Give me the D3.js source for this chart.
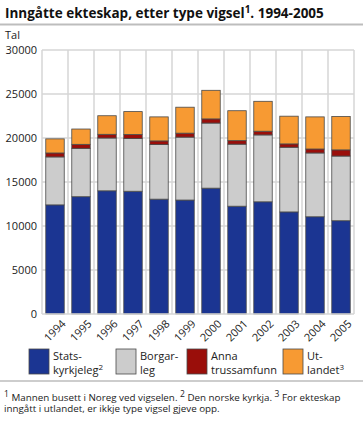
<!DOCTYPE html>
<html>
<head>
<meta charset="utf-8">
<script src="https://cdn.jsdelivr.net/npm/d3@7"></script>
<style>
  body { margin: 0; background: #fff; }
  svg { font-family: "Open Sans", sans-serif; }
</style>
</head>
<body>
<svg width="363" height="427"></svg>
<script>
// chart data
var years = ["1994", "1995", "1996", "1997", "1998", "1999", "2000", "2001", "2002", "2003", "2004", "2005"];
var statskyrkjeleg = [12400, 13330, 14000, 13950, 13050, 12950, 14300, 12250, 12750, 11600, 11050, 10600];
var borgarleg = [5450, 5500, 6000, 6000, 6200, 7150, 7400, 7050, 7600, 7350, 7250, 7350];
var anna = [450, 450, 420, 450, 420, 450, 470, 400, 420, 380, 450, 700];
var utlandet = [1600, 1740, 2110, 2600, 2730, 2950, 3250, 3400, 3400, 3150, 3650, 3800];
var yTicks = [0, 5000, 10000, 15000, 20000, 25000, 30000];

var seriesKeys = ["stats", "borgar", "anna", "utl"];
var colors = ["#1b3592", "#cccccc", "#9a0e0a", "#f79a33"];

var width = 363, height = 427;
var plotLeft = 42, plotRight = 354, plotTop = 50, plotBottom = 314;

var svg = d3.select("svg");

// title
var title = svg.append("text")
    .attr("x", 5)
    .attr("y", 18)
    .attr("font-weight", "bold")
    .style("font-size", "13.5px")
    .attr("fill", "#111");
title.append("tspan").text("Inngåtte ekteskap, etter type vigsel");
title.append("tspan").attr("dy", -5).style("font-size", "10px").text("1");
title.append("tspan").attr("dy", 5).text(". 1994-2005");

svg.append("line")
    .attr("x1", 0).attr("x2", width)
    .attr("y1", 24.5).attr("y2", 24.5)
    .attr("stroke", "#bdbdbd").attr("stroke-width", 2);

svg.append("text")
    .attr("x", 5).attr("y", 39)
    .style("font-size", "11px")
    .attr("fill", "#222")
    .text("Tal");

var x = d3.scaleBand()
    .domain(years)
    .range([plotLeft, plotRight])
    .paddingInner(0.29)
    .paddingOuter(0.145);

var y = d3.scaleLinear()
    .domain([0, 30000])
    .range([plotBottom, plotTop]);

// grid
var grid = svg.append("g").attr("stroke", "#d6d6d6").attr("stroke-width", 1.5);
grid.selectAll("line.h")
    .data(yTicks.filter(function(d) { return d > 0; }))
    .enter().append("line")
    .attr("x1", plotLeft).attr("x2", plotRight)
    .attr("y1", function(d) { return y(d); })
    .attr("y2", function(d) { return y(d); });
var step = x.step();
grid.selectAll("line.v")
    .data(d3.range(years.length + 1))
    .enter().append("line")
    .attr("x1", function(i) { return plotLeft + i * step; })
    .attr("x2", function(i) { return plotLeft + i * step; })
    .attr("y1", plotTop).attr("y2", plotBottom);

// y axis labels
svg.append("g")
    .attr("transform", "translate(" + plotLeft + ",0)")
    .call(d3.axisLeft(y).tickValues(yTicks).tickSize(0).tickPadding(5).tickFormat(d3.format("d")))
    .call(function(g) { g.select(".domain").remove(); })
    .selectAll("text")
    .style("font-size", "11px")
    .style("font-family", "'Open Sans', sans-serif")
    .attr("fill", "#222");

// stacked bars
var rows = years.map(function(yr, i) {
    return { year: yr, stats: statskyrkjeleg[i], borgar: borgarleg[i], anna: anna[i], utl: utlandet[i] };
});
var stack = d3.stack().keys(seriesKeys)(rows);

svg.append("g").selectAll("g")
    .data(stack)
    .enter().append("g")
    .attr("fill", function(d, i) { return colors[i]; })
    .selectAll("rect")
    .data(function(d) { return d; })
    .enter().append("rect")
    .attr("x", function(d) { return x(d.data.year); })
    .attr("y", function(d) { return y(d[1]); })
    .attr("width", x.bandwidth())
    .attr("height", function(d) { return y(d[0]) - y(d[1]); })
    .attr("stroke", "#4a4a4a")
    .attr("stroke-width", 0.8);

// baseline
svg.append("line")
    .attr("x1", plotLeft).attr("x2", plotRight)
    .attr("y1", plotBottom).attr("y2", plotBottom)
    .attr("stroke", "#d6d6d6").attr("stroke-width", 1.5);

// x labels, rotated
svg.append("g").selectAll("text")
    .data(years)
    .enter().append("text")
    .attr("transform", function(d) {
        return "translate(" + (x(d) + x.bandwidth() / 2 + 6) + "," + (plotBottom + 5) + ") rotate(-45)";
    })
    .attr("text-anchor", "end")
    .attr("dy", "0.7em")
    .style("font-size", "11px")
    .attr("fill", "#222")
    .text(function(d) { return d; });

// legend
var legendItems = [
    { lines: ["Stats-", "kyrkjeleg"], sup: "2", x: 29 },
    { lines: ["Borgar-", "leg"], sup: "", x: 116 },
    { lines: ["Anna", "trussamfunn"], sup: "", x: 187 },
    { lines: ["Ut-", "landet"], sup: "3", x: 283 }
];
var lg = svg.append("g").selectAll("g")
    .data(legendItems)
    .enter().append("g")
    .attr("transform", function(d) { return "translate(" + d.x + ",349)"; });
lg.append("rect")
    .attr("width", 20).attr("height", 25)
    .attr("fill", function(d, i) { return colors[i]; })
    .attr("stroke", "#4a4a4a").attr("stroke-width", 0.8);
lg.each(function(d) {
    var t = d3.select(this).append("text")
        .attr("x", 24).attr("y", 11)
        .style("font-size", "11px")
        .attr("fill", "#222");
    t.append("tspan").text(d.lines[0]);
    t.append("tspan").attr("x", 24).attr("dy", 13.5).text(d.lines[1]);
    if (d.sup) {
        t.append("tspan").attr("dy", -4).style("font-size", "8px").text(d.sup);
    }
});

svg.append("line")
    .attr("x1", 0).attr("x2", width)
    .attr("y1", 381).attr("y2", 381)
    .attr("stroke", "#bdbdbd").attr("stroke-width", 1.5);

// footnotes
var f1 = svg.append("text")
    .attr("x", 4).attr("y", 400.5)
    .style("font-size", "9.8px")
    .attr("fill", "#222");
var notes = [["1", " Mannen busett i Noreg ved vigselen. "], ["2", " Den norske kyrkja. "], ["3", " For ekteskap"]];
notes.forEach(function(n) {
    f1.append("tspan").attr("dy", -4).style("font-size", "8.5px").text(n[0]);
    f1.append("tspan").attr("dy", 4).text(n[1]);
});
svg.append("text")
    .attr("x", 4).attr("y", 412)
    .style("font-size", "9.8px")
    .attr("fill", "#222")
    .text("inngått i utlandet, er ikkje type vigsel gjeve opp.");
</script>
</body>
</html>
